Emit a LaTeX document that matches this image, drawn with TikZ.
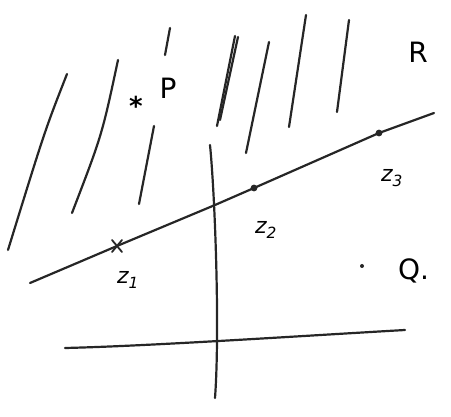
\documentclass[tikz,border=0pt]{standalone}
\usepackage{fontspec}
\setmainfont{DejaVu Sans}
\usetikzlibrary{calc}
\begin{document}
\begin{tikzpicture}[x=1pt,y=-1pt,
  pen/.style={line width=2.2pt,draw=black!85,line cap=round,line join=round},
  lbl/.style={inner sep=0pt,font=\fontsize{28}{30}\selectfont},
  zlbl/.style={inner sep=0pt,font=\fontsize{22}{24}\selectfont\itshape}]
\useasboundingbox (0,0) rectangle (451,417);
% hatching
\draw[pen] (67,74) .. controls (45,130) .. (8,250);
\draw[pen] (118,60) .. controls (102,135) .. (72,213);
\draw[pen] (170,28) -- (165,55);
\draw[pen] (154,126) -- (139,204);
\draw[pen] (235,36) -- (217,126);
\draw[pen] (238,37) -- (220,120);
\draw[pen] (269,42) -- (246,153);
\draw[pen] (306,15) -- (289,127);
\draw[pen] (349,20) -- (337,112);
% points on the line
\coordinate (z1) at (117,246);
\coordinate (x) at (215,205);
\coordinate (z2) at (254,188);
\coordinate (z3) at (379,133);
\coordinate (lend) at (30,283);
\coordinate (rend) at (434,113);
\draw[pen] (lend) .. controls (70,266) .. (z1) -- (x) -- (z2) -- (z3) -- (rend);
\fill[black!85] (z2) circle (3.4pt);
\fill[black!85] (z3) circle (3.4pt);
\draw[pen,line width=1.8pt] ($(z1)+(-5,-6)$) -- ($(z1)+(5,6)$) ($(z1)+(-5,6)$) -- ($(z1)+(5,-6)$);
% axes
\coordinate (vt) at (210,145);
\coordinate (vb) at (215,398);
\coordinate (hl) at (65,348);
\coordinate (hr) at (405,330);
\draw[pen] (vt) .. controls (215,195) and (220,330) .. (vb);
\draw[pen] (hl) .. controls (150,346) and (300,336) .. (hr);
% labels
\node[lbl] (P) at (168,88) {P};
\node[inner sep=0pt,font=\fontsize{26}{26}\selectfont\bfseries] (star) at (136,106) {*};
\node[lbl] (R) at (418,52) {R};
\fill[black!85] (362,266) circle (2pt);
\node[lbl,anchor=west] (Q) at (398,271) {Q.};
\node[zlbl] (l1) at (128,280) {z\textsubscript{1}};
\node[zlbl] (l2) at (266,230) {z\textsubscript{2}};
\node[zlbl] (l3) at (392,178) {z\textsubscript{3}};
\end{tikzpicture}
\end{document}
